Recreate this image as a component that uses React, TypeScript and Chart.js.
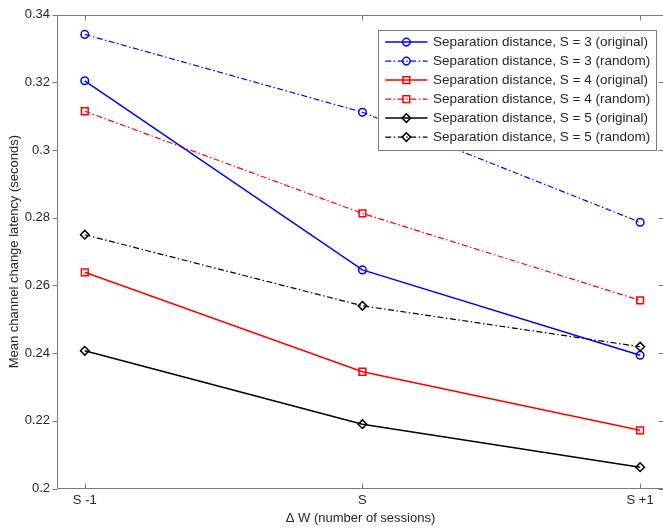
import React, { useEffect, useRef } from 'react';
import { Chart, registerables } from 'chart.js';

Chart.register(...registerables);

// ---------- data ----------
const categories = ['S -1', 'S', 'S +1'];
const categoryPositions = [1, 2, 3];
const yTickValues = [0.2, 0.22, 0.24, 0.26, 0.28, 0.3, 0.32, 0.34];

const s3Original = [0.3205, 0.2646, 0.2394];
const s3Random = [0.3342, 0.3112, 0.2787];
const s4Original = [0.2639, 0.2345, 0.2172];
const s4Random = [0.3115, 0.2813, 0.2556];
const s5Original = [0.2407, 0.219, 0.2063];
const s5Random = [0.275, 0.254, 0.2419];

const seriesLabels = [
  'Separation distance, S = 3 (original)',
  'Separation distance, S = 3 (random)',
  'Separation distance, S = 4 (original)',
  'Separation distance, S = 4 (random)',
  'Separation distance, S = 5 (original)',
  'Separation distance, S = 5 (random)',
];

const xTitle = '\u0394 W (number of sessions)';
const yTitle = 'Mean channel change latency (seconds)';

// ---------- styles ----------
const FONT = "'Liberation Sans', Arial, Helvetica, sans-serif";
const AXIS_COLOR = '#7a7a7a';
const TEXT_COLOR = '#262626';
const DASH_DOT = [6, 2.5, 1.5, 2.5];

type Marker = 'circle' | 'square' | 'diamond';
interface SeriesDef {
  label: string;
  values: number[];
  color: string;
  dashed: boolean;
  marker: Marker;
}

const series: SeriesDef[] = [
  { label: seriesLabels[0], values: s3Original, color: '#0000ff', dashed: false, marker: 'circle' },
  { label: seriesLabels[1], values: s3Random, color: '#0000ff', dashed: true, marker: 'circle' },
  { label: seriesLabels[2], values: s4Original, color: '#ff0000', dashed: false, marker: 'square' },
  { label: seriesLabels[3], values: s4Random, color: '#ff0000', dashed: true, marker: 'square' },
  { label: seriesLabels[4], values: s5Original, color: '#000000', dashed: false, marker: 'diamond' },
  { label: seriesLabels[5], values: s5Random, color: '#000000', dashed: true, marker: 'diamond' },
];

const markerStyle: Record<Marker, { style: string; radius: number }> = {
  circle: { style: 'circle', radius: 3.8 },
  square: { style: 'rect', radius: 4.8 },
  diamond: { style: 'rectRot', radius: 4.3 },
};

function drawMarker(ctx: CanvasRenderingContext2D, m: Marker, x: number, y: number) {
  ctx.beginPath();
  if (m === 'circle') {
    ctx.arc(x, y, 3.8, 0, Math.PI * 2);
  } else if (m === 'square') {
    const h = 4.8 * Math.SQRT1_2;
    ctx.rect(x - h, y - h, 2 * h, 2 * h);
  } else {
    const r = 4.3;
    ctx.moveTo(x - r, y);
    ctx.lineTo(x, y - r);
    ctx.lineTo(x + r, y);
    ctx.lineTo(x, y + r);
    ctx.closePath();
  }
  ctx.stroke();
}

const framePlugin = {
  id: 'matlabFrame',
  afterDatasetsDraw(chart: any) {
    const { ctx, chartArea: a, scales } = chart;
    const L = Math.round(a.left) + 0.5;
    const R = Math.round(a.right) - 0.5;
    const T = Math.round(a.top) + 0.5;
    const B = Math.round(a.bottom) - 0.5;
    ctx.save();
    ctx.strokeStyle = AXIS_COLOR;
    ctx.lineWidth = 1;
    ctx.setLineDash([]);
    ctx.beginPath();
    ctx.moveTo(L, T);
    ctx.lineTo(R, T);
    ctx.lineTo(R, B);
    ctx.lineTo(L, B);
    ctx.closePath();
    ctx.stroke();
    const tl = 5;
    ctx.beginPath();
    yTickValues.forEach((v) => {
      const py = Math.round(scales.y.getPixelForValue(v)) + 0.5;
      ctx.moveTo(L - tl, py);
      ctx.lineTo(L, py);
      ctx.moveTo(R, py);
      ctx.lineTo(R - tl, py);
    });
    categoryPositions.forEach((v) => {
      const px = Math.round(scales.x.getPixelForValue(v)) + 0.5;
      ctx.moveTo(px, B);
      ctx.lineTo(px, B - tl);
      ctx.moveTo(px, T);
      ctx.lineTo(px, T + tl);
    });
    ctx.stroke();
    ctx.restore();
  },
};

const legendPlugin = {
  id: 'matlabLegend',
  afterDraw(chart: any) {
    const { ctx, chartArea: a } = chart;
    const boxRight = a.right - 8.5;
    const boxLeft = boxRight - 278;
    const boxTop = a.top + 15.5;
    const rowH = 19;
    const boxH = 120;
    ctx.save();
    ctx.fillStyle = '#ffffff';
    ctx.fillRect(boxLeft, boxTop, boxRight - boxLeft, boxH);
    ctx.strokeStyle = AXIS_COLOR;
    ctx.lineWidth = 1;
    ctx.setLineDash([]);
    ctx.strokeRect(Math.round(boxLeft) + 0.5, Math.round(boxTop) + 0.5, Math.round(boxRight - boxLeft), boxH);
    ctx.font = `13.5px ${FONT}`;
    ctx.textBaseline = 'middle';
    ctx.textAlign = 'left';
    series.forEach((s, i) => {
      const cy = boxTop + 11.8 + i * rowH;
      const x0 = boxLeft + 7.7;
      const x1 = boxLeft + 50;
      const mx = (x0 + x1) / 2;
      ctx.strokeStyle = s.color;
      ctx.lineWidth = s.dashed ? 1.2 : 1.5;
      ctx.setLineDash(s.dashed ? DASH_DOT : []);
      ctx.beginPath();
      ctx.moveTo(x0, cy);
      ctx.lineTo(x1, cy);
      ctx.stroke();
      ctx.setLineDash([]);
      ctx.lineWidth = 1.5;
      drawMarker(ctx, s.marker, mx, cy);
      ctx.fillStyle = TEXT_COLOR;
      ctx.fillText(s.label, boxLeft + 55.5, cy + 0.5);
    });
    ctx.restore();
  },
};

export default function App() {
  const canvasRef = useRef<HTMLCanvasElement | null>(null);

  useEffect(() => {
    const canvas = canvasRef.current;
    if (!canvas) return;
    const datasets = series.map((s) => ({
      label: s.label,
      data: s.values.map((y, i) => ({ x: categoryPositions[i], y })),
      borderColor: s.color,
      borderWidth: s.dashed ? 1.2 : 1.5,
      borderDash: s.dashed ? DASH_DOT : [],
      pointStyle: markerStyle[s.marker].style,
      pointRadius: markerStyle[s.marker].radius,
      pointBorderColor: s.color,
      pointBackgroundColor: 'rgba(0,0,0,0)',
      pointBorderWidth: 1.5,
      fill: false,
      tension: 0,
    }));

    const tickFont = { family: FONT, size: 13 };

    const chart = new Chart(canvas, {
      type: 'line',
      data: { datasets },
      plugins: [framePlugin, legendPlugin],
      options: {
        responsive: false,
        animation: false,
        devicePixelRatio: 1,
        layout: { padding: { left: 0, right: 16, top: 6, bottom: 0 } },
        plugins: {
          legend: { display: false },
          tooltip: { enabled: false },
          title: { display: false },
        },
        scales: {
          x: {
            type: 'linear',
            min: 0.9,
            max: 3.086,
            grid: { display: false, drawTicks: false },
            border: { display: false },
            afterBuildTicks: (scale: any) => {
              scale.ticks = categoryPositions.map((v) => ({ value: v }));
            },
            ticks: {
              autoSkip: false,
              maxRotation: 0,
              padding: 4,
              color: TEXT_COLOR,
              font: tickFont,
              callback: (_v: any, i: number) => categories[i],
            },
            title: {
              display: true,
              text: xTitle,
              color: TEXT_COLOR,
              font: tickFont,
              padding: { top: 0, bottom: 5 },
            },
            afterFit: (scale: any) => {
              scale.height = 42.5;
            },
          },
          y: {
            type: 'linear',
            min: 0.2,
            max: 0.34,
            grid: { display: false, drawTicks: false },
            border: { display: false },
            afterBuildTicks: (scale: any) => {
              scale.ticks = yTickValues.map((v) => ({ value: v }));
            },
            ticks: {
              padding: 7,
              color: TEXT_COLOR,
              font: tickFont,
              callback: (v: any) => String(Number(Number(v).toFixed(2))),
            },
            title: {
              display: true,
              text: yTitle,
              color: TEXT_COLOR,
              font: tickFont,
              padding: { top: 7, bottom: 0 },
            },
            afterFit: (scale: any) => {
              scale.width = 57;
            },
          },
        },
      } as any,
    });

    return () => chart.destroy();
  }, []);

  return (
    <div
      style={{
        position: 'fixed',
        left: 0,
        top: 0,
        width: 663,
        height: 531,
        overflow: 'hidden',
        background: '#ffffff',
      }}
    >
      <canvas
        ref={canvasRef}
        width={680}
        height={531}
        style={{ display: 'block', width: 680, height: 531 }}
      />
    </div>
  );
}
